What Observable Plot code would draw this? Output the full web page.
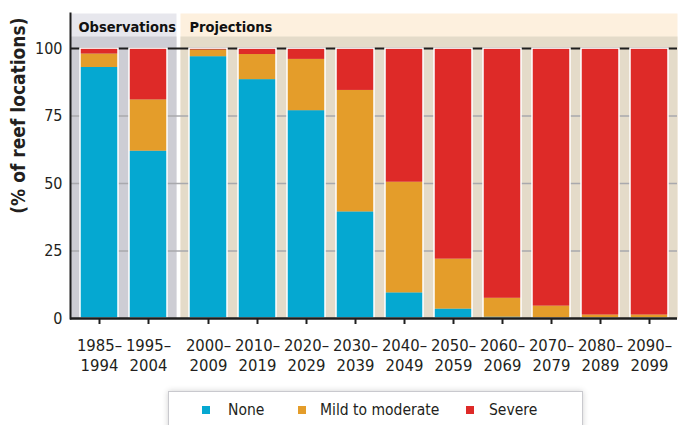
<!DOCTYPE html>
<html>
<head>
<meta charset="utf-8">
<script src="https://cdn.jsdelivr.net/npm/d3@7"></script>
<script src="https://cdn.jsdelivr.net/npm/@observablehq/plot@0.6"></script>
<style>
  html, body { margin: 0; padding: 0; background: #fff; }
  body { width: 682px; height: 425px; overflow: hidden; font-family: "Liberation Sans Narrow", "DejaVu Sans Condensed", "Open Sans", sans-serif; color: #231f20; }
  #row { display: flex; flex-direction: row; }
  #row svg { display: block; }
  #legend { position: absolute; left: 168px; top: 391px; width: 413px; height: 60px; border: 1px solid #c9c9ce; background: #fff; box-shadow: 0 0 6px rgba(0,0,0,0.18); font-size: 15.5px; }
  .sw { position: absolute; top: 14px; width: 8px; height: 8px; }
  .tx { position: absolute; top: 8px; white-space: nowrap; line-height: 20px; }
</style>
</head>
<body>
<div id="row"></div>
<div id="legend"></div>
<script>
// ---- data ----
const periods = ["1985–1994","1995–2004","2000–2009","2010–2019","2020–2029","2030–2039","2040–2049","2050–2059","2060–2069","2070–2079","2080–2089","2090–2099"];
const periodGroup = ["Observations","Observations","Projections","Projections","Projections","Projections","Projections","Projections","Projections","Projections","Projections","Projections"];
const groups = ["Observations","Projections"];
const levels = ["None","Mild to moderate","Severe"];
const none   = [93, 62, 97, 88.5, 77, 39.5, 9.5, 3.5, 0.5, 0, 0, 0];
const mild   = [5, 19, 2.5, 9.3, 19, 45, 41, 18.5, 7, 4.6, 1.3, 1.3];
const severe = [2, 19, 0.5, 2.2, 4, 15.5, 49.5, 78, 92.5, 95.4, 98.7, 98.7];
const yTicks = [0, 25, 50, 75, 100];
const colors = ["#05a8d1", "#e49d2a", "#de2a28"];
const panelHeader = {Observations: "#e7e7ed", Projections: "#fdf0de"};
const panelBody = {Observations: "#cdcdd4", Projections: "#e4dbc9"};

const series = [none, mild, severe];
const data = [];
periods.forEach((p, i) => levels.forEach((l, j) => data.push({period: p, group: periodGroup[i], level: l, value: series[j][i]})));

const FONT = "'Liberation Sans Narrow', 'DejaVu Sans Condensed', 'Open Sans', sans-serif";

function panel(group, first) {
  const rows = data.filter(d => d.group === group);
  const dom = periods.filter((p, i) => periodGroup[i] === group);
  const marks = [
    Plot.frame({fill: panelHeader[group], insetRight: first ? 4 : 0}),
    Plot.frame({fill: panelBody[group], insetRight: first ? 4 : 0, insetTop: 23}),
    Plot.ruleY([25, 50, 75], {stroke: "#a9a9ad", strokeWidth: 1.6}),
    Plot.ruleY([100], {stroke: "#1e1e1e", strokeWidth: 2}),
    Plot.barY(rows, {x: "period", y: "value", fill: "level", order: levels}),
    Plot.barY(rows, Plot.groupX({y: "sum"}, {x: "period", y: "value", fill: "none", stroke: "white", strokeWidth: 1.5})),
    Plot.ruleY([0], {stroke: "#1e1e1e", strokeWidth: 2.5}),
    Plot.axisX({tickSize: 6, tickPadding: 12, strokeWidth: 2, stroke: "#1e1e1e", fontSize: 16.5, lineHeight: 1.22, fill: "#231f20",
      tickFormat: d => d.replace("–", "–\n"), label: null}),
    Plot.text([group], {frameAnchor: "top-left", dx: first ? 8 : 9, dy: 8, text: d => d, fontWeight: "bold", fontSize: 14.5, textAnchor: "start", lineAnchor: "top", fill: "#111"})
  ];
  if (first) {
    marks.push(
      Plot.axisY({ticks: yTicks, tickSize: 0, tickPadding: 8, fontSize: 16, fill: "#231f20", label: null}),
      Plot.frame({anchor: "left", stroke: "#1e1e1e", strokeWidth: 2}),
      Plot.text(["(% of reef locations)"], {frameAnchor: "top-left", dx: -52, dy: 4, text: d => d, rotate: -90, textAnchor: "end", lineAnchor: "middle", fontWeight: "bold", fontSize: 19, fill: "#231f20"})
    );
  }
  return Plot.plot({
    width: first ? 180 : 502,
    height: 380,
    marginLeft: first ? 70 : 0,
    marginRight: first ? 0 : 5,
    marginTop: 13,
    marginBottom: 62,
    style: {fontFamily: FONT, background: "white", overflow: "visible"},
    x: {type: "band", domain: dom, paddingInner: 0.22, paddingOuter: first ? 0.221 : 0.14, align: first ? 0.45 : 0.5, axis: null},
    y: {domain: [0, 113], axis: null},
    color: {domain: levels, range: colors},
    marks
  });
}

const row = document.getElementById("row");
row.appendChild(panel("Observations", true));
row.appendChild(panel("Projections", false));

// legend
const legend = document.getElementById("legend");
const swatchLeft = [33, 129, 297];
const textLeft = [59, 151, 320];
levels.forEach((l, i) => {
  const sw = document.createElement("div");
  sw.className = "sw";
  sw.style.left = swatchLeft[i] + "px";
  sw.style.background = colors[i];
  const tx = document.createElement("div");
  tx.className = "tx";
  tx.style.left = textLeft[i] + "px";
  tx.textContent = l;
  legend.appendChild(sw); legend.appendChild(tx);
});
</script>
</body>
</html>
